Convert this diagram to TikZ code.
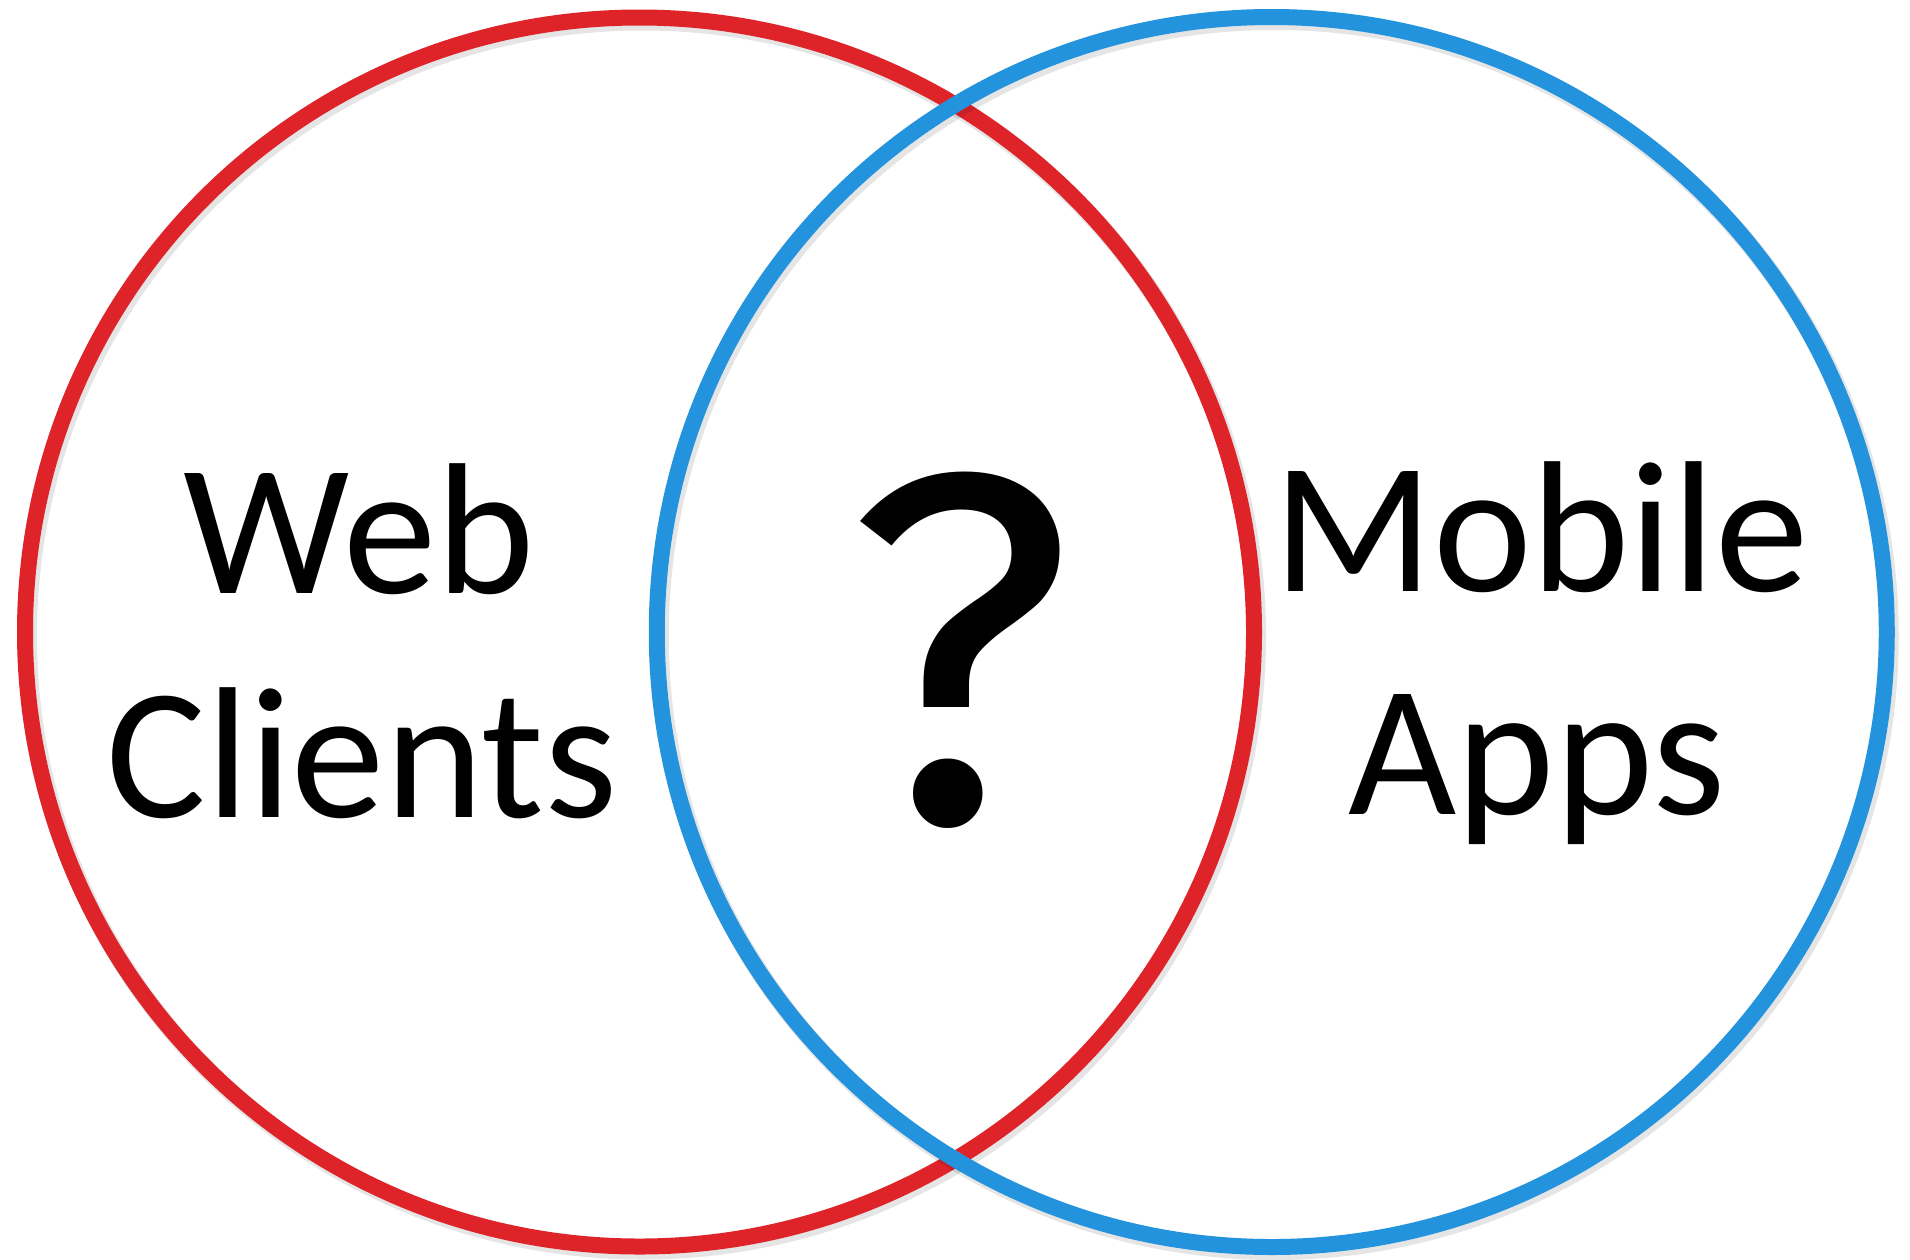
\documentclass[tikz,border=0pt]{standalone}
\usepackage{fontspec}
\setmainfont{Carlito}
\newfontfamily\qfont{Fira Sans}
\definecolor{ringred}{RGB}{223,36,41}
\definecolor{ringblue}{RGB}{35,147,221}
\begin{document}
\begin{tikzpicture}[x=1pt,y=1pt,
  ring/.style={line width=16pt},
  ringshadow/.style={line width=18pt, draw=black, opacity=0.10},
  label/.style={anchor=base, inner sep=0pt, font=\fontsize{187}{228}\selectfont},
  qmark/.style={anchor=base, inner sep=0pt, font=\qfont\fontsize{500}{600}\selectfont}]
\useasboundingbox (0,0) rectangle (1910,-1259);
\fill[white] (0,0) rectangle (1910,-1259);
% circle centres
\coordinate (rc) at (639.5,-632);
\coordinate (bc) at (1271.75,-632);
\draw[ringshadow] ([shift={(3,-4)}]rc) circle (614.5);
\draw[ring, draw=ringred] (rc) circle (614.5);
\draw[ringshadow] ([shift={(3,-4)}]bc) circle (615);
\draw[ring, draw=ringblue] (bc) circle (615);
% labels
\node[label] (web) at (359,-593) {Web};
\node[label] (clients) at (362,-817) {Clients};
\node[label] (mobile) at (1541,-591) {Mobile};
\node[label] (apps) at (1537,-814) {Apps};
\node[qmark] (q) at (960,-822) {?};
\end{tikzpicture}
\end{document}
